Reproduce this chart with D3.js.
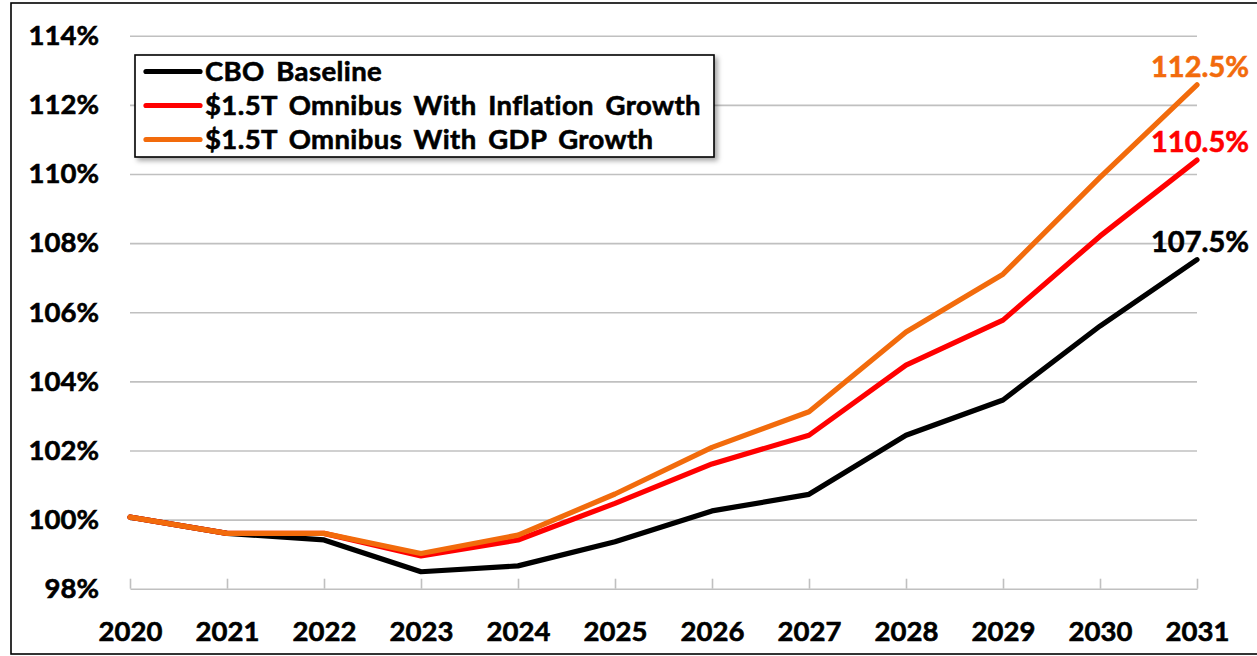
<html>
<head>
    <meta charset="utf-8">
    <script src="https://cdnjs.cloudflare.com/ajax/libs/d3/7.8.5/d3.min.js"></script>
    <style>
        body { margin: 0; background: #fff; }
        svg text { font-family: Lato, "Open Sans", sans-serif; font-weight: 700; }
    </style>
</head>
<body>
    <svg width="1257" height="656"></svg>
    <script>
        // chart values
        const years = ["2020", "2021", "2022", "2023", "2024", "2025", "2026", "2027", "2028", "2029", "2030", "2031"];
        const cboBaseline = [100.07, 99.6, 99.41, 98.49, 98.66, 99.36, 100.25, 100.73, 102.44, 103.46, 105.6, 107.52];
        const inflationGrowth = [100.07, 99.6, 99.6, 98.95, 99.41, 100.47, 101.61, 102.44, 104.47, 105.77, 108.2, 110.4];
        const gdpGrowth = [100.07, 99.6, 99.6, 99.02, 99.55, 100.74, 102.09, 103.12, 105.43, 107.1, 109.9, 112.58];
        const seriesNames = ["CBO Baseline", "$1.5T Omnibus With Inflation Growth", "$1.5T Omnibus With GDP Growth"];
        const seriesColors = ["#000000", "#ff0000", "#f26b0c"];
        const endLabels = ["107.5%", "110.5%", "112.5%"];
        const yTicks = [98, 100, 102, 104, 106, 108, 110, 112, 114];

        const series = [cboBaseline, inflationGrowth, gdpGrowth];

        const svg = d3.select("svg");

        // outer frame (right side runs off the picture)
        svg.append("rect")
           .attr("x", 11).attr("y", 3)
           .attr("width", 1300).attr("height", 651)
           .attr("fill", "#fff")
           .attr("stroke", "#000")
           .attr("stroke-width", 1.6);

        const x = d3.scalePoint().domain(years).range([130, 1197]);
        const y = d3.scaleLinear().domain([98, 114]).range([588.7, 35.7]);

        // make the bold text a bit heavier, closer to the original
        const heavy = (sel, color) => sel.attr("stroke", color).attr("stroke-width", 0.6).attr("paint-order", "stroke");

        // gridlines
        svg.append("g")
           .attr("transform", "translate(130,0)")
           .call(d3.axisLeft(y).tickValues(yTicks.slice(1)).tickSize(-1067).tickFormat(""))
           .call(g => g.select(".domain").remove())
           .selectAll("line")
           .attr("stroke", "#c0c0c0")
           .attr("stroke-width", 1.6);

        // y labels
        svg.append("g")
           .attr("transform", "translate(130,0)")
           .call(d3.axisLeft(y).tickValues(yTicks).tickSize(0).tickPadding(31).tickFormat(d => d + "%"))
           .call(g => g.select(".domain").remove())
           .selectAll("text")
           .attr("fill", "#000")
           .attr("font-size", 27.5)
           .attr("font-family", "Lato, sans-serif")
           .attr("font-weight", 700)
           .call(heavy, "#000");

        // x axis with ticks pointing up
        const xAxis = svg.append("g")
           .attr("transform", `translate(0,${y(98)})`)
           .call(d3.axisBottom(x).tickSizeInner(-10).tickSizeOuter(0).tickPadding(33));
        xAxis.select(".domain").attr("stroke", "#c0c0c0").attr("stroke-width", 1.6);
        xAxis.selectAll("line").attr("stroke", "#c0c0c0").attr("stroke-width", 1.6);
        xAxis.selectAll("text")
             .attr("fill", "#000")
             .attr("font-size", 27.5)
             .attr("font-family", "Lato, sans-serif")
             .attr("font-weight", 700)
             .call(heavy, "#000");

        // lines
        const line = d3.line()
                       .x((d, i) => x(years[i]))
                       .y(d => y(d));

        svg.append("g")
           .selectAll("path")
           .data(series)
           .join("path")
           .attr("d", line)
           .attr("fill", "none")
           .attr("stroke", (d, i) => seriesColors[i])
           .attr("stroke-width", 5.2)
           .attr("stroke-linejoin", "round")
           .attr("stroke-linecap", "round");

        // end labels
        svg.append("g")
           .selectAll("text")
           .data(series)
           .join("text")
           .attr("x", x("2031") + 3)
           .attr("y", d => y(d[d.length - 1]) - 8)
           .attr("text-anchor", "middle")
           .attr("font-size", 29)
           .attr("fill", (d, i) => seriesColors[i])
           .attr("stroke", (d, i) => seriesColors[i])
           .attr("stroke-width", 0.6)
           .text((d, i) => endLabels[i]);

        // legend
        const defs = svg.append("defs");
        const f = defs.append("filter").attr("id", "shadow")
                      .attr("x", "-5%").attr("y", "-10%").attr("width", "115%").attr("height", "130%");
        f.append("feDropShadow")
         .attr("dx", 3).attr("dy", 3).attr("stdDeviation", 2.5)
         .attr("flood-color", "#000").attr("flood-opacity", 0.35);

        const legend = svg.append("g").attr("transform", "translate(135,55)");
        legend.append("rect")
              .attr("width", 579).attr("height", 102)
              .attr("fill", "#fff")
              .attr("stroke", "#000")
              .attr("stroke-width", 1.6)
              .attr("filter", "url(#shadow)");

        const rows = legend.selectAll(".row")
                           .data(seriesNames)
                           .join("g")
                           .attr("class", "row")
                           .attr("transform", (d, i) => `translate(0,${16.5 + i * 34})`);

        rows.append("line")
            .attr("x1", 11).attr("x2", 65)
            .attr("stroke", (d, i) => seriesColors[i])
            .attr("stroke-width", 5.2)
            .attr("stroke-linecap", "round");

        rows.append("text")
            .attr("x", 70)
            .attr("dy", "0.36em")
            .attr("font-size", 27.5)
            .attr("letter-spacing", 0.4)
            .attr("word-spacing", 4.5)
            .attr("fill", "#000")
            .call(heavy, "#000")
            .text(d => d);
    </script>
</body>
</html>
